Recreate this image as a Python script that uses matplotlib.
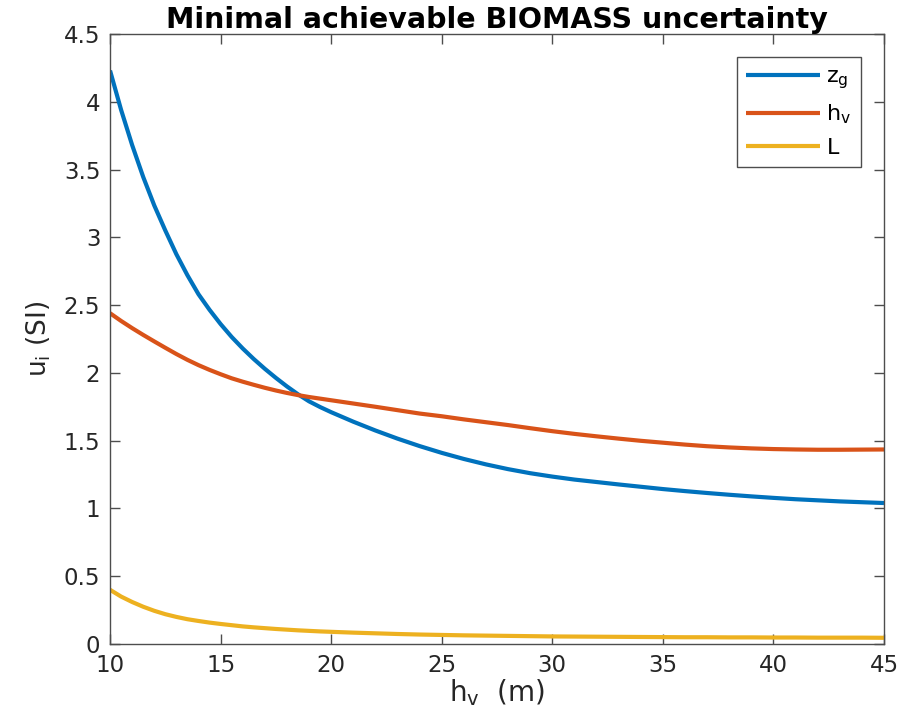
import numpy as np
import matplotlib
matplotlib.use("Agg")
import matplotlib.pyplot as plt

plt.rcParams['font.family'] = 'DejaVu Sans'
plt.rcParams['mathtext.default'] = 'regular'

# canopy height grid (m): half-metre steps where the curves bend fast
hv = [10, 10.5, 11, 11.5, 12, 12.5, 13, 13.5, 14, 14.5,
      15, 15.5, 16, 16.5, 17, 17.5, 18, 18.5, 19, 19.5,
      20, 21, 22, 23, 24, 25, 26, 27, 28, 29,
      30, 31, 32, 33, 34, 35, 36, 37, 38, 39,
      40, 41, 42, 43, 44, 45]

# minimal achievable uncertainty for each parameter
u_zg = [4.23, 3.94, 3.68, 3.445, 3.235, 3.05, 2.875, 2.72, 2.58, 2.465,
        2.36, 2.265, 2.18, 2.102, 2.03, 1.963, 1.90, 1.842, 1.79, 1.748,
        1.71, 1.64, 1.575, 1.515, 1.46, 1.41, 1.365, 1.325, 1.29, 1.26,
        1.235, 1.213, 1.195, 1.177, 1.16, 1.143, 1.128, 1.114, 1.101, 1.089,
        1.078, 1.068, 1.06, 1.052, 1.046, 1.04]
u_hv = [2.44, 2.383, 2.33, 2.28, 2.232, 2.185, 2.139, 2.096, 2.057, 2.022,
        1.99, 1.96, 1.935, 1.912, 1.89, 1.87, 1.852, 1.836, 1.822, 1.81,
        1.798, 1.774, 1.75, 1.725, 1.70, 1.68, 1.657, 1.636, 1.615, 1.592,
        1.57, 1.55, 1.532, 1.515, 1.499, 1.485, 1.471, 1.459, 1.45, 1.443,
        1.438, 1.435, 1.433, 1.433, 1.434, 1.435]
u_L = [0.40, 0.35, 0.31, 0.275, 0.245, 0.22, 0.20, 0.183, 0.17, 0.158,
       0.148, 0.139, 0.13, 0.123, 0.117, 0.111, 0.106, 0.101, 0.097, 0.093,
       0.09, 0.084, 0.079, 0.074, 0.07, 0.067, 0.064, 0.062, 0.06, 0.058,
       0.056, 0.055, 0.054, 0.053, 0.052, 0.051, 0.05, 0.05, 0.049, 0.049,
       0.048, 0.048, 0.047, 0.047, 0.047, 0.046]

labels = ['z$_g$', 'h$_v$', 'L']
colors = ['#0072BD', '#D95319', '#EDB120']

fig = plt.figure(figsize=(9.17, 7.22), dpi=100)
ax = fig.add_axes([0.12, 0.108, 0.844, 0.845])

for y, lab, c in zip([u_zg, u_hv, u_L], labels, colors):
    ax.plot(hv, y, color=c, lw=3, label=lab,
            solid_joinstyle='round', solid_capstyle='butt')

ax.set_xlim(10, 45)
ax.set_ylim(0, 4.5)
ax.set_xticks(np.arange(10, 46, 5))
ax.set_yticks(np.arange(0, 4.51, 0.5))
ax.set_yticklabels(['0', '0.5', '1', '1.5', '2', '2.5', '3', '3.5', '4', '4.5'])

axis_col = '#4d4d4d'
for s in ax.spines.values():
    s.set_color(axis_col)
    s.set_linewidth(1.0)
ax.tick_params(direction='in', length=7, width=1, color=axis_col,
               labelcolor='#262626', labelsize=16.5, top=True, right=True, pad=7)

ax.set_xlabel('h$_v$  (m)', fontsize=20, color='#262626', labelpad=0)
ax.set_ylabel('u$_i$ (SI)', fontsize=19, color='#262626', labelpad=8)
ax.set_title('Minimal achievable BIOMASS uncertainty', fontsize=20.5,
             fontweight='bold', pad=4)

leg = ax.legend(loc='upper right', bbox_to_anchor=(0.97, 0.962), borderaxespad=0,
                fontsize=16, handlelength=3.3, handletextpad=0.3, borderpad=0.42,
                labelspacing=0.52, fancybox=False, framealpha=1)
leg.get_frame().set_edgecolor(axis_col)
leg.get_frame().set_linewidth(1.0)

fig.savefig('out.png', dpi=100)
